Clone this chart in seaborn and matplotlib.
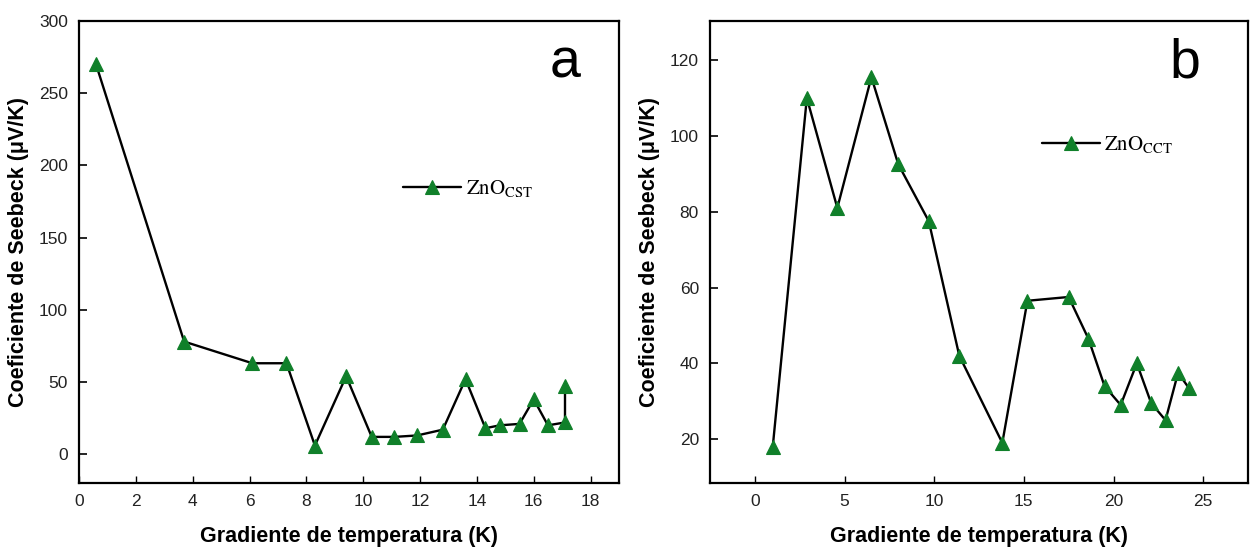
import matplotlib
matplotlib.use("Agg")
import matplotlib.pyplot as plt
import seaborn as sns
import pandas as pd

# Panel a: ZnO (CST) Seebeck coefficient vs temperature gradient
grad_cst = [0.6, 3.7, 6.1, 7.3, 8.3, 9.4, 10.3, 11.1, 11.9, 12.8, 13.6,
            14.3, 14.8, 15.5, 16.0, 16.5, 17.1, 17.1]
seebeck_cst = [270, 78, 63, 63, 6, 54, 12, 12, 13, 17, 52,
               18, 20, 21, 38, 20, 22, 47]

# Panel b: ZnO (CCT) Seebeck coefficient vs temperature gradient
grad_cct = [1.0, 2.9, 4.6, 6.5, 8.0, 9.7, 11.4, 13.8, 15.2, 17.5, 18.6,
            19.5, 20.4, 21.3, 22.1, 22.9, 23.6, 24.2]
seebeck_cct = [18, 110, 81, 115.5, 92.5, 77.5, 42, 19, 56.5, 57.5, 46.5,
               34, 29, 40, 29.5, 25, 37.5, 33.5]

xticks_a = [0, 2, 4, 6, 8, 10, 12, 14, 16, 18]
yticks_a = [0, 50, 100, 150, 200, 250, 300]
xticks_b = [0, 5, 10, 15, 20, 25]
yticks_b = [20, 40, 60, 80, 100, 120]

xlabel = "Gradiente de temperatura (K)"
ylabel = "Coeficiente de Seebeck (μV/K)"

sns.set_theme(style="white")
narrow = ["Liberation Sans Narrow", "Liberation Sans", "DejaVu Sans"]
plt.rcParams["font.family"] = narrow
plt.rcParams["mathtext.fontset"] = "stix"
plt.rcParams["text.color"] = "black"
plt.rcParams["axes.labelcolor"] = "black"

fig = plt.figure(figsize=(12.5, 5.54), dpi=100)
ax_a = fig.add_axes([0.0632, 0.128, 0.432, 0.834])
ax_b = fig.add_axes([0.568, 0.128, 0.4304, 0.834])

green = "#10802a"

panels = [
    (ax_a, grad_cst, seebeck_cst, r"$\mathrm{ZnO_{CST}}$", "a",
     (0, 19), (-20, 300), xticks_a, yticks_a, (0.6, 0.638)),
    (ax_b, grad_cct, seebeck_cct, r"$\mathrm{ZnO_{CCT}}$", "b",
     (-2.5, 27.5), (8.4, 130.3), xticks_b, yticks_b, (0.617, 0.732)),
]

for ax, xs, ys, name, letter, xlim, ylim, xt, yt, leg_pos in panels:
    df = pd.DataFrame({"x": xs, "y": ys})
    sns.lineplot(data=df, x="x", y="y", ax=ax, sort=False, estimator=None,
                 color="black", linewidth=1.7, marker="^", markersize=10,
                 markerfacecolor=green, markeredgecolor=green,
                 markeredgewidth=0.8, label=name)
    ax.set_xlim(*xlim)
    ax.set_ylim(*ylim)
    ax.set_xticks(xt)
    ax.set_yticks(yt)
    ax.tick_params(direction="in", length=6, width=1.2, labelsize=12.5,
                   pad=8, colors="black", labelcolor="#222222",
                   bottom=True, left=True, top=False, right=False)
    ax.tick_params(axis="x", length=5, width=1.0)
    for sp in ax.spines.values():
        sp.set_visible(True)
        sp.set_color("black")
        sp.set_linewidth(1.6)
    ax.set_xlabel(xlabel, fontsize=15.5, fontweight="bold", labelpad=12)
    ax.set_ylabel(ylabel, fontsize=15.5, fontweight="bold", labelpad=7)
    ax.grid(False)
    leg = ax.legend(loc="center left", bbox_to_anchor=leg_pos,
                    frameon=False, borderaxespad=0, borderpad=0,
                    handlelength=2.8, handletextpad=0.2,
                    prop={"family": "STIXGeneral", "size": 15})
    ax.text(0.9 if letter == "a" else 0.883, 0.877, letter,
            transform=ax.transAxes, ha="center", va="baseline",
            fontsize=40, color="black",
            family=["Liberation Sans", "DejaVu Sans"])

fig.savefig("out.png", dpi=100)
